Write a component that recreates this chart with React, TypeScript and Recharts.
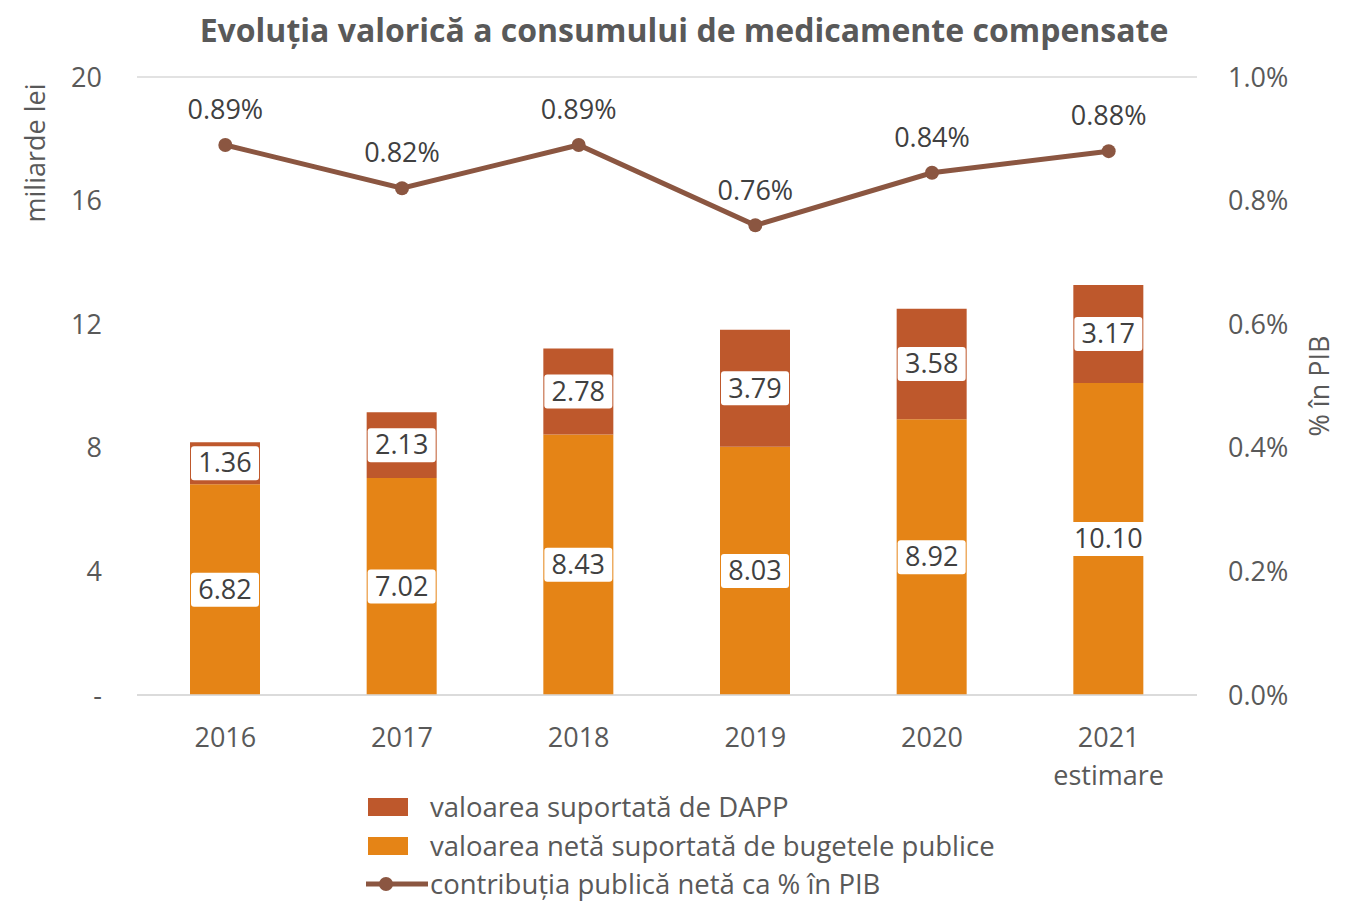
import React from 'react';
import { ComposedChart, Bar, Line, XAxis, YAxis, CartesianGrid, LabelList } from 'recharts';

const years = ['2016', '2017', '2018', '2019', '2020', '2021'];
const yearSub = ['', '', '', '', '', 'estimare'];
const netPublic = [6.82, 7.02, 8.43, 8.03, 8.92, 10.1];
const dapp = [1.36, 2.13, 2.78, 3.79, 3.58, 3.17];
const pctPib = [0.89, 0.82, 0.89, 0.76, 0.845, 0.88];
const pctLabels = ['0.89%', '0.82%', '0.89%', '0.76%', '0.84%', '0.88%'];
const leftTicks = [0, 4, 8, 12, 16, 20];
const rightTicks = [0, 0.2, 0.4, 0.6, 0.8, 1.0];

const data = years.map((y, i) => ({
  year: y,
  sub: yearSub[i],
  net: netPublic[i],
  dapp: dapp[i],
  pct: pctPib[i],
  pctLabel: pctLabels[i],
}));

const FONT = '"Open Sans", sans-serif';
const FS = 27;
const TXT = '#595959';
const C_DAPP = '#BE582C';
const C_NET = '#E58416';
const C_LINE = '#8B5641';

const W = 1339;
const H = 893;

const BoxLabel = (props: any) => {
  const { x, y, width, height, value } = props;
  const s = Number(value).toFixed(2);
  const bw = s.length > 4 ? 82 : 68;
  const cx = x + width / 2;
  const cy = y + height / 2;
  return (
    <g>
      <rect x={cx - bw / 2} y={cy - 17} width={bw} height={34} fill="#ffffff" rx={3} />
      <text x={cx} y={cy + 2} textAnchor="middle" dominantBaseline="middle" fontFamily={FONT} fontSize={FS} fill="#404040">
        {s}
      </text>
    </g>
  );
};

const PctLabel = (props: any) => {
  const { x, y, index } = props;
  return (
    <text x={x} y={y - 33} textAnchor="middle" dominantBaseline="middle" fontFamily={FONT} fontSize={FS} fill="#404040">
      {pctLabels[index]}
    </text>
  );
};

const XTick = (props: any) => {
  const { x, y, payload, index } = props;
  const sub = yearSub[index];
  return (
    <g>
      <text x={x} y={y + 44} textAnchor="middle" fontFamily={FONT} fontSize={FS} fill={TXT}>
        {payload.value}
      </text>
      {sub ? (
        <text x={x} y={y + 82} textAnchor="middle" fontFamily={FONT} fontSize={FS} fill={TXT}>
          {sub}
        </text>
      ) : null}
    </g>
  );
};

const LegendBlock = () => {
  const row = (k: number, swatch: React.ReactNode, label: string) => (
    <div key={k} style={{ display: 'flex', alignItems: 'center', height: 38.5 }}>
      <div style={{ width: 64, display: 'flex', justifyContent: 'flex-start' }}>{swatch}</div>
      <span style={{ fontFamily: FONT, fontSize: 27.5, color: TXT, whiteSpace: 'nowrap', lineHeight: '30px' }}>{label}</span>
    </div>
  );
  return (
    <div style={{ position: 'absolute', left: 358, top: 780 }}>
      {row(0, <div style={{ width: 40, height: 18, marginLeft: 2, background: C_DAPP }} />, 'valoarea suportată de DAPP')}
      {row(1, <div style={{ width: 40, height: 18, marginLeft: 2, background: C_NET }} />, 'valoarea netă suportată de bugetele publice')}
      {row(
        2,
        <svg width={64} height={20}>
          <line x1={0} y1={10} x2={62} y2={10} stroke={C_LINE} strokeWidth={5} />
          <circle cx={20} cy={10} r={7} fill={C_LINE} />
        </svg>,
        'contribuția publică netă ca % în PIB'
      )}
    </div>
  );
};

export default function App() {
  return (
    <div style={{ position: 'relative', width: W, height: H, overflow: 'hidden' }}>
      <div
        style={{
          position: 'absolute',
          left: 0,
          width: 1352,
          top: 0,
          textAlign: 'center',
          fontFamily: FONT,
          fontWeight: 700,
          fontSize: 32,
          color: TXT,
          zIndex: 2,
        }}
      >
        Evoluția valorică a consumului de medicamente compensate
      </div>
      <ComposedChart width={W} height={H} data={data} margin={{ top: 69, right: 0, left: 0, bottom: 106 }} barSize={70}>
        <CartesianGrid vertical={false} stroke="#D9D9D9" strokeWidth={1.5} />
        <XAxis
          dataKey="year"
          tick={<XTick />}
          tickLine={false}
          axisLine={{ stroke: '#D9D9D9', strokeWidth: 1.5 }}
          height={100}
          interval={0}
        />
        <YAxis
          yAxisId="left"
          orientation="left"
          domain={[0, 20]}
          ticks={leftTicks}
          width={129}
          tickSize={0}
          tickMargin={35}
          axisLine={false}
          tickLine={false}
          tickFormatter={(v: number) => (v === 0 ? '-' : String(v))}
          tick={{ fontFamily: FONT, fontSize: FS, fill: TXT }}
          label={{
            content: () => (
              <text
                transform="translate(30 145) rotate(-90)"
                textAnchor="middle"
                dominantBaseline="middle"
                fontFamily={FONT}
                fontSize={FS}
                fill={TXT}
              >
                miliarde lei
              </text>
            ),
          }}
        />
        <YAxis
          yAxisId="right"
          orientation="right"
          domain={[0, 1]}
          ticks={rightTicks}
          width={150}
          tickSize={0}
          tickMargin={31}
          axisLine={false}
          tickLine={false}
          tickFormatter={(v: number) => `${v.toFixed(1)}%`}
          tick={{ fontFamily: FONT, fontSize: FS, fill: TXT, textAnchor: 'start' }}
          label={{
            content: () => (
              <text
                transform="translate(1314 378) rotate(-90)"
                textAnchor="middle"
                dominantBaseline="middle"
                fontFamily={FONT}
                fontSize={FS}
                fill={TXT}
              >
                % în PIB
              </text>
            ),
          }}
        />
        <Bar yAxisId="left" dataKey="net" stackId="a" fill={C_NET} isAnimationActive={false}>
          <LabelList dataKey="net" content={<BoxLabel />} />
        </Bar>
        <Bar yAxisId="left" dataKey="dapp" stackId="a" fill={C_DAPP} isAnimationActive={false}>
          <LabelList dataKey="dapp" content={<BoxLabel />} />
        </Bar>
        <Line
          yAxisId="right"
          dataKey="pct"
          stroke={C_LINE}
          strokeWidth={5}
          dot={{ r: 7, fill: C_LINE, stroke: C_LINE, strokeWidth: 0 }}
          isAnimationActive={false}
        >
          <LabelList dataKey="pct" content={<PctLabel />} />
        </Line>
      </ComposedChart>
      <LegendBlock />
    </div>
  );
}
